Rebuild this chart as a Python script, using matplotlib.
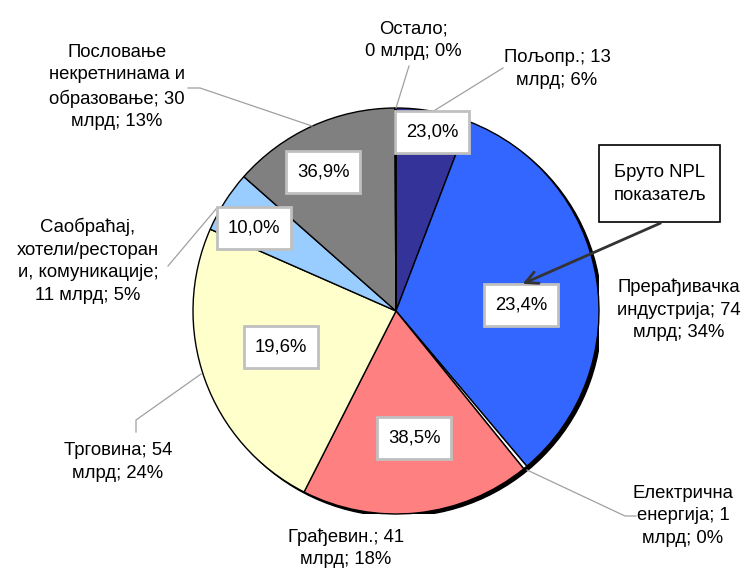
import matplotlib
matplotlib.use("Agg")
import matplotlib.pyplot as plt
from matplotlib.patches import Rectangle, Circle

plt.rcParams['font.family'] = ['Liberation Sans', 'DejaVu Sans']

# ---- data ----
categories = ["Пољопр.", "Прерађивачка индустрија", "Електрична енергија", "Грађевин.",
              "Трговина", "Саобраћај, хотели/ресторани, комуникације",
              "Пословање некретнинама и образовање", "Остало"]
values = [13, 74, 0.7, 41, 54, 11, 30, 0.2]           # млрд
shares_label = [6, 34, 0, 18, 24, 5, 13, 0]            # % shown in labels
label_texts = [
    "Пољопр.; 13\nмлрд; 6%",
    "Прерађивачка\nиндустрија; 74\nмлрд; 34%",
    "Електрична\nенергија; 1\nмлрд; 0%",
    "Грађевин.; 41\nмлрд; 18%",
    "Трговина; 54\nмлрд; 24%",
    "Саобраћај,\nхотели/ресторан\nи, комуникације;\n11 млрд; 5%",
    "Пословање\nнекретнинама и\nобразовање; 30\nмлрд; 13%",
    "Остало;\n0 млрд; 0%",
]
npl_ratio = ["23,0%", "23,4%", None, "38,5%", "19,6%", "10,0%", "36,9%", None]
colors = ['#333399', '#3366FF', '#FFFFFF', '#FF8080', '#FFFFCC', '#99CCFF', '#808080', '#FFFFFF']

W, H = 744, 570
fig = plt.figure(figsize=(W / 100, H / 100), dpi=100)
fig.patch.set_facecolor('white')

# pie axes: centre (396,311), radius 203 px
cx, cy, r = 396, 311, 203
ax = fig.add_axes([(cx - r) / W, (H - cy - r) / H, 2 * r / W, 2 * r / H])

shadow = Circle((0.014, -0.012), 1.0, facecolor='black', edgecolor='black', zorder=0)
ax.add_patch(shadow)
wedges, _ = ax.pie(values, colors=colors, startangle=90, counterclock=False, radius=1,
                   wedgeprops=dict(edgecolor='black', linewidth=1.0))
for w in wedges:
    w.set_zorder(1)
ax.set_xlim(-1, 1)
ax.set_ylim(-1, 1)
ax.axis('off')

# overlay in pixel coordinates
ov = fig.add_axes([0, 0, 1, 1], zorder=5)
ov.set_xlim(0, W)
ov.set_ylim(H, 0)
ov.axis('off')
ov.patch.set_alpha(0)

fs = 13.3
label_pos = [(557, 69), (679, 310), (683, 516), (346, 548), (118, 462),
             (88, 261), (117, 87), (413, 40)]
for txt, (x, y) in zip(label_texts, label_pos):
    ov.text(x, y, txt, ha='center', va='center', fontsize=fs, linespacing=1.42, color='black')

leader_col = '#A0A0A0'
leaders = [
    [(503, 68), (432, 112)],
    [(527, 470), (625, 516), (636, 516)],
    [(136, 432), (136, 420), (201, 374)],
    [(168, 266), (216, 209)],
    [(188, 88), (200, 88), (312, 126)],
    [(409, 66), (396, 108)],
]
for pts in leaders:
    xs, ys = zip(*pts)
    ov.plot(xs, ys, color=leader_col, lw=0.9, zorder=2)

box_pos = [(432, 132), (521, 305), None, (414, 438), (281, 347), (254, 228), (323, 172), None]
bw, bh = 74, 42
for t, p in zip(npl_ratio, box_pos):
    if t is None:
        continue
    x, y = p
    ov.add_patch(Rectangle((x - bw / 2, y - bh / 2), bw, bh, facecolor='white',
                           edgecolor='#C0C0C0', lw=2, zorder=3))
    ov.text(x, y, t, ha='center', va='center', fontsize=fs, zorder=4)

# NPL callout
ov.add_patch(Rectangle((599, 145), 121, 77, facecolor='white', edgecolor='black', lw=1.2, zorder=3))
ov.text(660, 184, "Бруто NPL\nпоказатељ", ha='center', va='center', fontsize=fs,
        linespacing=1.42, zorder=4)
ov.annotate('', xy=(520, 285), xytext=(663, 222),
            arrowprops=dict(arrowstyle='->', color='#333333', lw=2, mutation_scale=22),
            zorder=4)

fig.savefig('out.png', dpi=100, facecolor='white')
